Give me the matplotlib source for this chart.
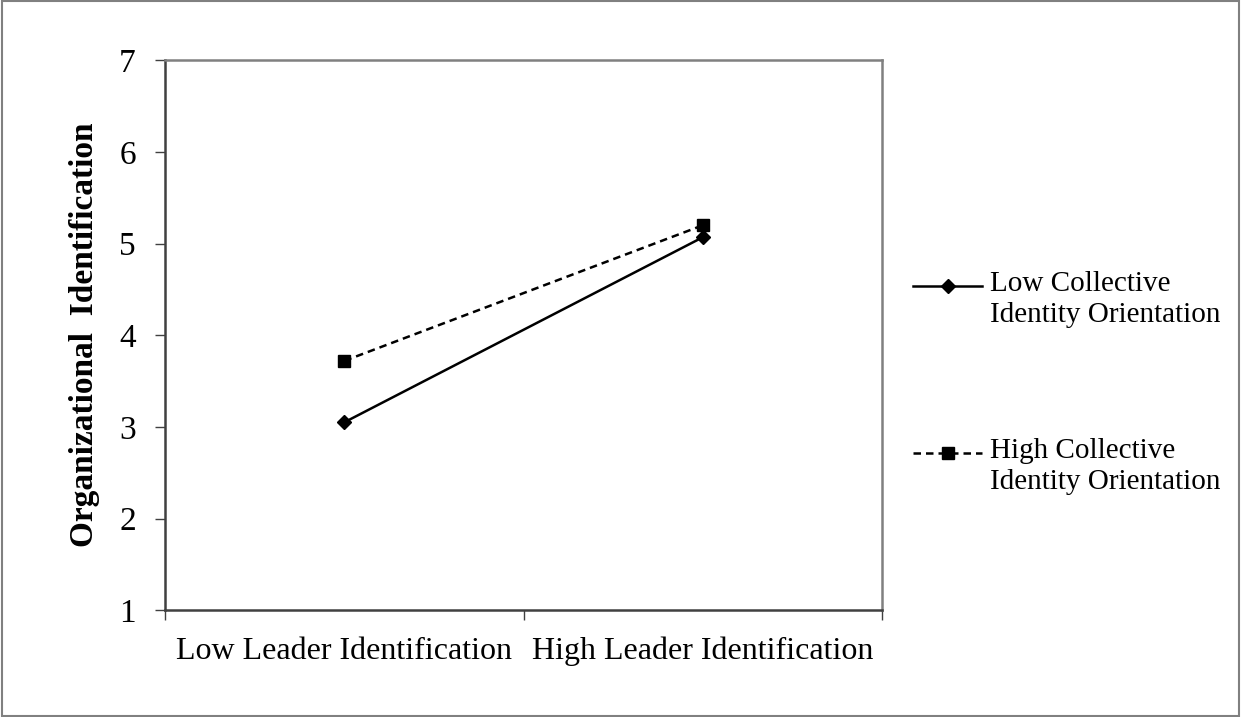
import numpy as np
import matplotlib.pyplot as plt
from matplotlib.lines import Line2D

plt.rcParams['font.family'] = ['Liberation Serif', 'DejaVu Serif']

categorias = ['Low Leader Identification', 'High Leader Identification']
bajo_cio = [3.05, 5.07]
alto_cio = [3.72, 5.20]
series = ['Low Collective\nIdentity Orientation', 'High Collective\nIdentity Orientation']
ticks_y = [1, 2, 3, 4, 5, 6, 7]

fig = plt.figure(figsize=(12.41, 7.17), dpi=100)
ax = fig.add_axes([0.133, 0.149, 0.578, 0.767])

estilo_bajo = dict(color='black', lw=1.8, marker='D', ms=7)
estilo_alto = dict(color='black', lw=1.8, ls=(0, (3, 2)), marker='s', ms=9)

x = np.arange(len(categorias)) + 0.5
ax.plot(x, bajo_cio, **estilo_bajo)
ax.plot(x, alto_cio, **estilo_alto)

ax.set_xlim(0, 2)
ax.set_ylim(1, 7)
ax.set_yticks(ticks_y)
ax.set_xticks([0, 1, 2])
ax.set_xticklabels([])
ax.set_xticks(x, minor=True)
ax.set_xticklabels(categorias, minor=True, fontsize=23)
ax.tick_params(axis='x', which='minor', length=0, pad=19)
ax.tick_params(axis='x', which='major', direction='out', length=7, width=1, color='#404040')
ax.tick_params(axis='y', direction='out', length=7, width=1, color='#404040', labelsize=24, pad=14)

for lado in ['top', 'right']:
    ax.spines[lado].set_color('#808080')
    ax.spines[lado].set_linewidth(1.8)
for lado in ['left', 'bottom']:
    ax.spines[lado].set_color('#404040')
    ax.spines[lado].set_linewidth(1.8)

ax.set_ylabel('Organizational  Identification', fontsize=24, fontweight='bold')
ax.yaxis.set_label_coords(-0.09, 0.5)

# leyenda a mano (el simbolo va alineado con la primera linea del texto)
for estilo, texto, y_simbolo, y_texto in [(estilo_bajo, series[0], 0.601, 0.582),
                                          (estilo_alto, series[1], 0.368, 0.349)]:
    fig.add_artist(Line2D([0.7357, 0.7913], [y_simbolo, y_simbolo], transform=fig.transFigure,
                          **{k: v for k, v in estilo.items() if k != 'marker'}))
    fig.add_artist(Line2D([0.7635], [y_simbolo], transform=fig.transFigure, ls='none',
                          marker=estilo['marker'], ms=estilo['ms'], color='black'))
    fig.text(0.798, y_texto, texto, fontsize=21, va='center', ha='left', linespacing=1.25)

# marco exterior
fig.patches.append(plt.Rectangle((0.0015, 0.002), 0.997, 0.996, transform=fig.transFigure,
                                 fill=False, edgecolor='#808080', lw=1.5))

fig.savefig('out.png', dpi=100)
